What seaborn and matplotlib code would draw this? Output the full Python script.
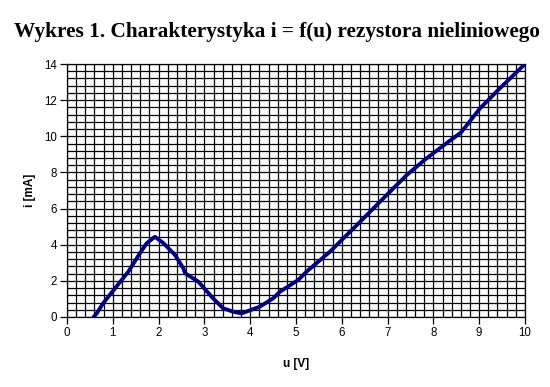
import numpy as np
import pandas as pd
import matplotlib
matplotlib.use("Agg")
import matplotlib.pyplot as plt
import seaborn as sns
from matplotlib.ticker import MultipleLocator

# ===================== DATA =====================
u_vals = [0.58, 0.65, 0.79, 1.05, 1.34, 1.59, 1.74, 1.92, 2.10, 2.36, 2.54, 2.58,
          2.87, 3.19, 3.41, 3.63, 3.81, 4.21, 4.50, 4.65, 5.05, 5.23, 5.74, 6.33,
          6.98, 7.42, 7.85, 8.43, 8.60, 9.02, 9.45, 10.0]
i_vals = [0.00, 0.20, 0.76, 1.59, 2.51, 3.52, 4.08, 4.44, 4.10, 3.43, 2.69, 2.42,
          1.95, 1.03, 0.48, 0.29, 0.20, 0.57, 1.03, 1.40, 2.05, 2.51, 3.61, 5.09,
          6.75, 7.86, 8.78, 9.89, 10.20, 11.55, 12.65, 14.00]

x_ticks = list(range(0, 11))
y_ticks = list(range(0, 15, 2))

df = pd.DataFrame({"u": u_vals, "i": i_vals})

# ===================== PLOT =====================
sns.set_style("white")
plt.rcParams["font.family"] = ["Liberation Sans", "DejaVu Sans"]
plt.rcParams["text.color"] = "black"
plt.rcParams["axes.labelcolor"] = "black"
plt.rcParams["xtick.color"] = "black"
plt.rcParams["ytick.color"] = "black"

fig = plt.figure(figsize=(5.5, 3.87), dpi=100)
ax = fig.add_axes([0.1218, 0.1809, 0.8327, 0.6537])

sns.lineplot(data=df, x="u", y="i", ax=ax, sort=False, estimator=None,
             color="#000080", lw=2.8, zorder=5)

ax.set_xlim(0, 10)
ax.set_ylim(0, 14)
ax.set_xticks(x_ticks)
ax.set_yticks(y_ticks)
ax.xaxis.set_minor_locator(MultipleLocator(0.2))
ax.yaxis.set_minor_locator(MultipleLocator(0.4))
ax.grid(which="both", color="black", lw=0.9)
ax.tick_params(which="major", direction="out", length=5, width=0.9,
               color="black", labelsize=8.3, bottom=True, left=True, pad=2)
ax.tick_params(which="minor", length=0)
for s in ax.spines.values():
    s.set_color("black")
    s.set_linewidth(0.9)

ax.set_xlabel("u [V]", fontsize=8.5, fontweight="bold", labelpad=14)
ax.set_ylabel("i [mA]", fontsize=8.5, fontweight="bold", labelpad=6)
fig.suptitle("Wykres 1. Charakterystyka i = f(u) rezystora nieliniowego",
             family="Liberation Serif", fontweight="bold", fontsize=15.3,
             x=0.504, y=0.917, va="center", color="black")

fig.savefig("out.png", dpi=100)
